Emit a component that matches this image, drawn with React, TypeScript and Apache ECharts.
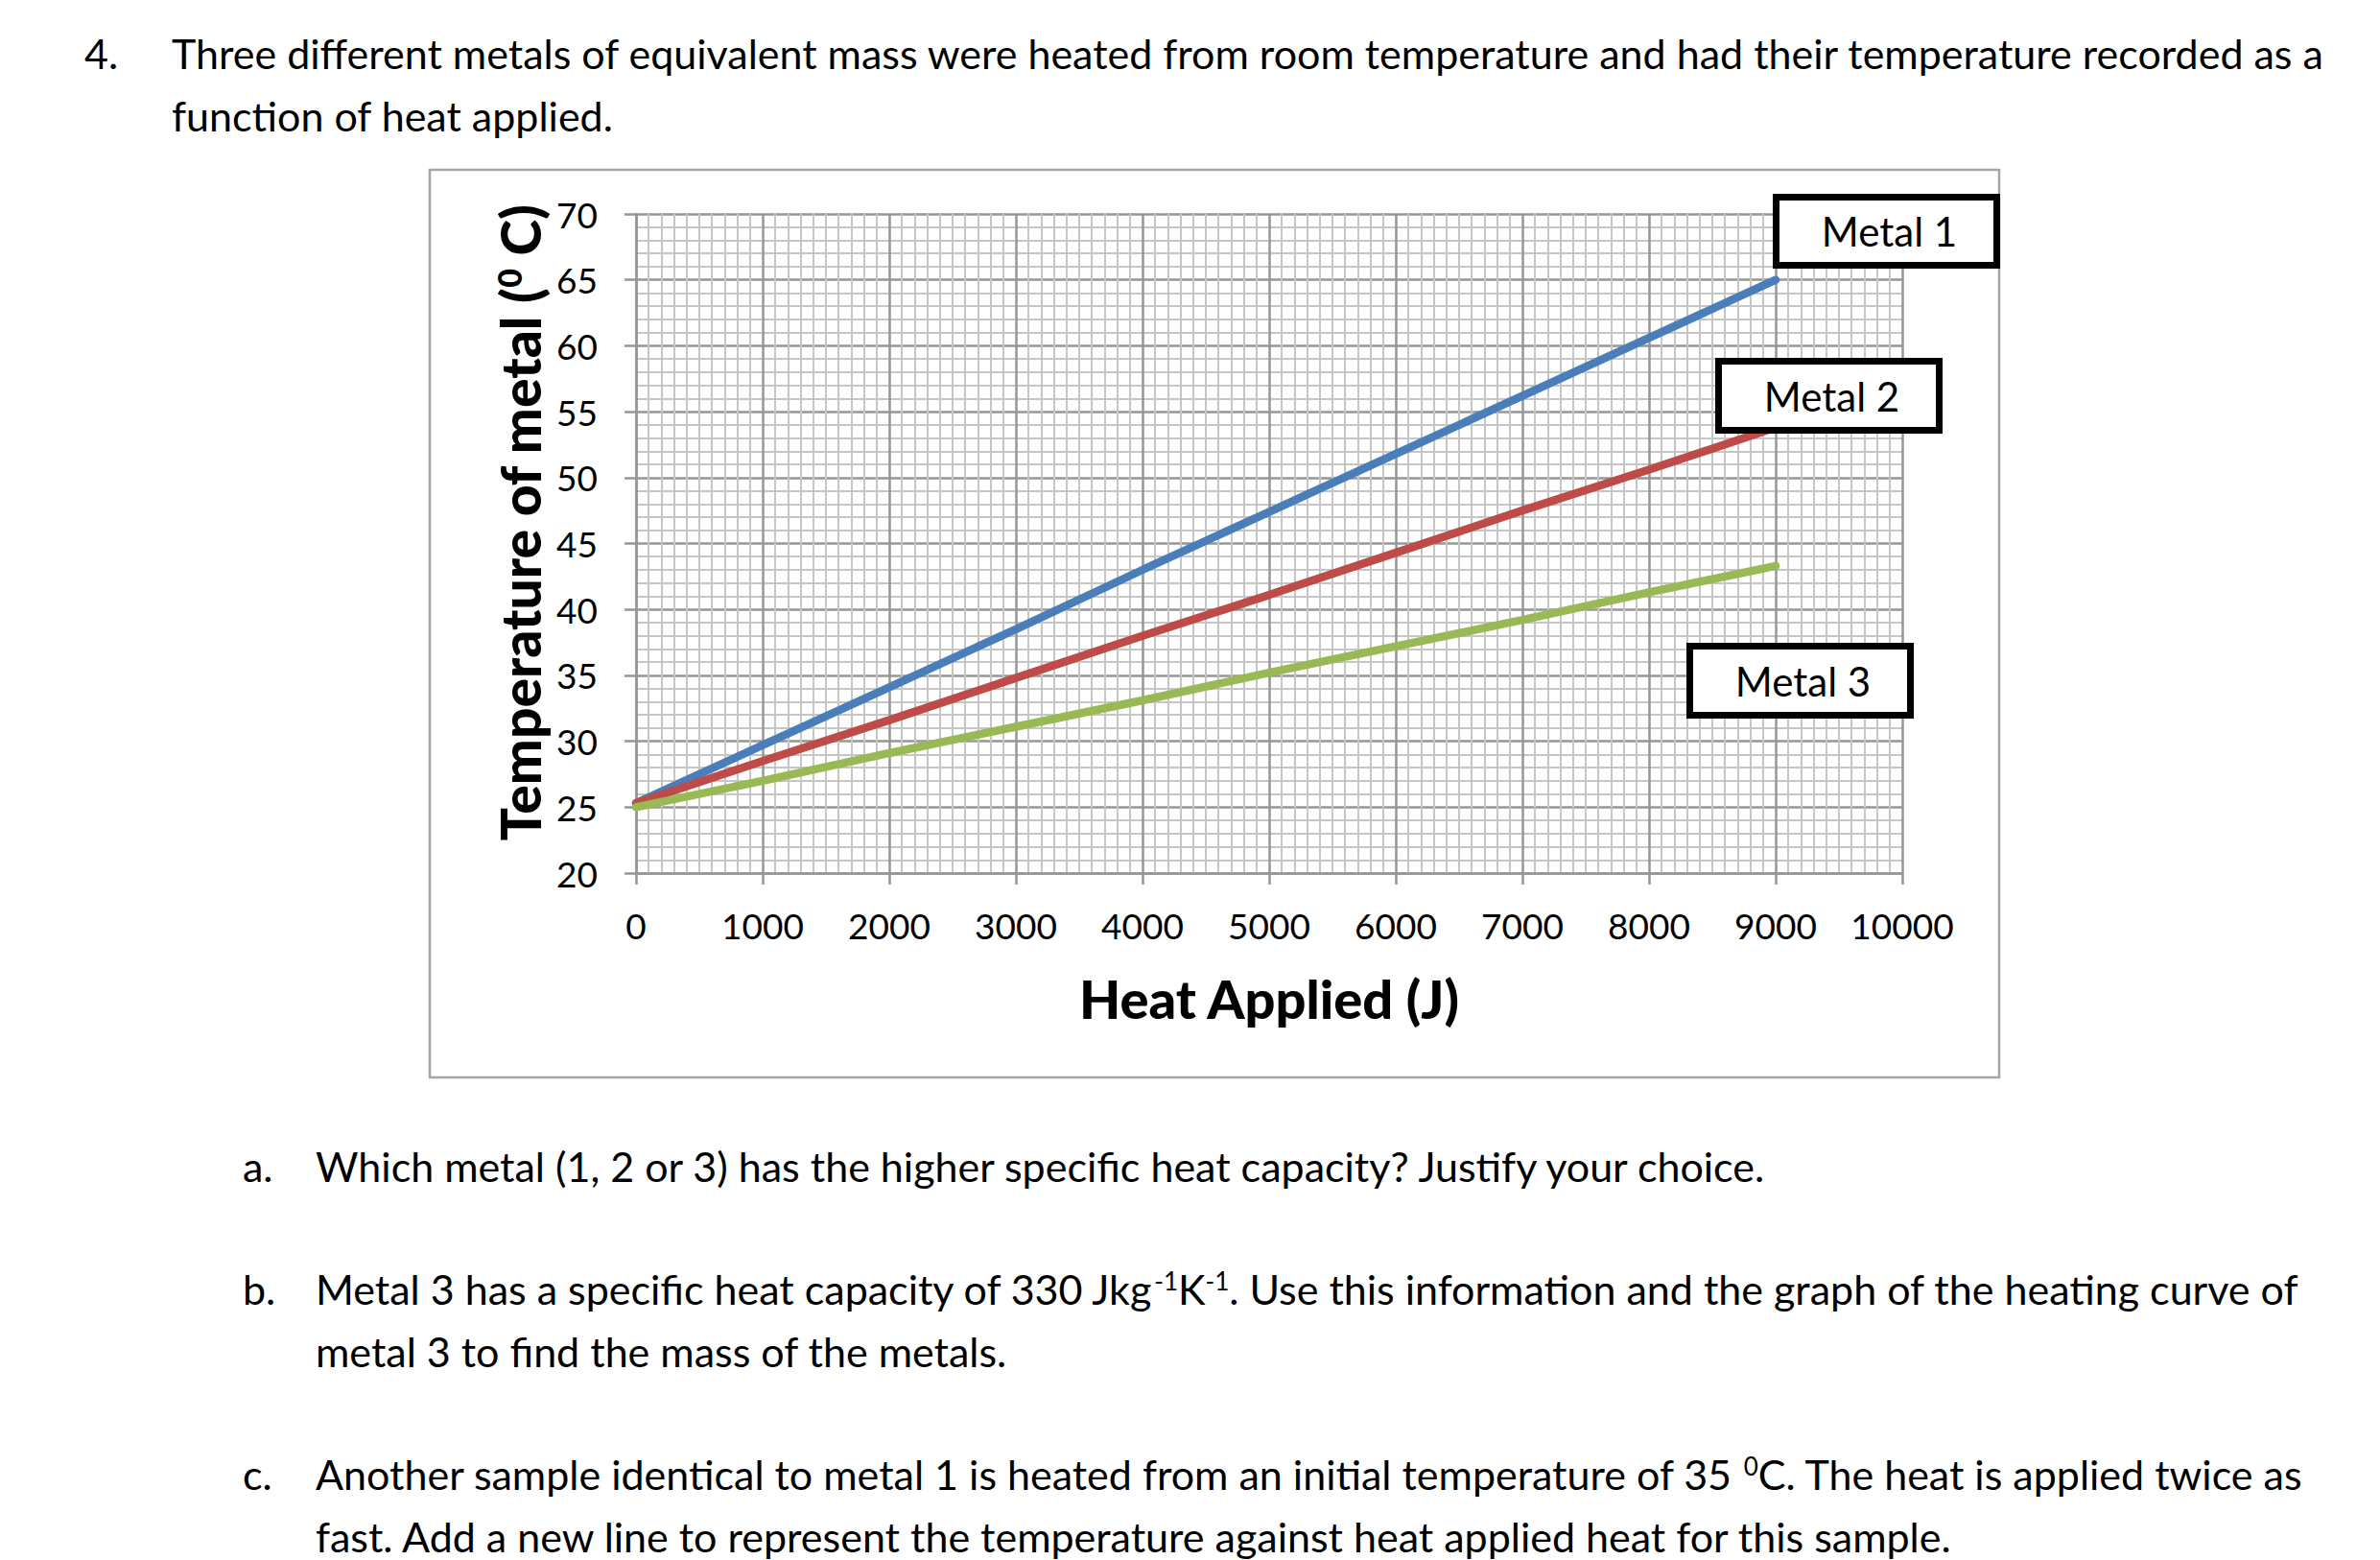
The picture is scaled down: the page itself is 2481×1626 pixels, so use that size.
import React, { useEffect, useRef } from "react";
import * as echarts from "echarts";

// ---- data ----
const heatApplied = [0, 1000, 2000, 3000, 4000, 5000, 6000, 7000, 8000, 9000];
const metal1Temp = [25.3, 29.7, 34.1, 38.5, 43.0, 47.4, 51.8, 56.2, 60.6, 65.0];
const metal2Temp = [25.3, 28.5, 31.6, 34.8, 38.0, 41.1, 44.3, 47.5, 50.6, 53.8];
const metal3Temp = [25.0, 27.0, 29.1, 31.1, 33.1, 35.2, 37.2, 39.2, 41.3, 43.3];

const seriesNames = ["Metal 1", "Metal 2", "Metal 3"];
const seriesColors = ["#4a7ebb", "#be4b48", "#98b954"];

const xMin = 0;
const xMax = 10000;
const xStep = 1000;
const yMin = 20;
const yMax = 70;
const yStep = 5;

const xTitle = "Heat Applied (J)";
const yTitle = "Temperature of metal ({sup|0} C)";

const questionIntro = [
  "Three different metals of equivalent mass were heated from room temperature and had their temperature recorded as a",
  "function of heat applied.",
];
const questionA = ["Which metal (1, 2 or 3) has the higher specific heat capacity? Justify your choice."];
const questionB = [
  "Metal 3 has a specific heat capacity of 330 Jkg{sup|-1}K{sup|-1}. Use this information and the graph of the heating curve of",
  "metal 3 to find the mass of the metals.",
];
const questionC = [
  "Another sample identical to metal 1 is heated from an initial temperature of 35 {sup|0}C. The heat is applied twice as",
  "fast. Add a new line to represent the temperature against heat applied heat for this sample.",
];

const FONT = "Lato, 'Noto Sans', sans-serif";

export default function App() {
  const ref = useRef<HTMLDivElement>(null);

  useEffect(() => {
    document.body.style.margin = "0";
    if (!ref.current) return;
    const chart = echarts.init(ref.current, undefined, { renderer: "svg" });

    const allTemps = [metal1Temp, metal2Temp, metal3Temp];
    const series = allTemps.map((temps, i) => ({
      name: seriesNames[i],
      type: "line" as const,
      data: heatApplied.map((h, j) => [h, temps[j]]),
      showSymbol: false,
      symbol: "none",
      lineStyle: { color: seriesColors[i], width: 8.5, cap: "round" as const },
      itemStyle: { color: seriesColors[i] },
      z: 3,
      silent: true,
    }));

    const bodyText = (x: number, y: number, text: string) => ({
      type: "text",
      x,
      y,
      style: {
        text,
        fill: "#000",
        fontSize: 43,
        fontFamily: FONT,
        align: "left",
        verticalAlign: "middle",
        rich: {
          sup: { fontSize: 26, fontFamily: FONT, fill: "#000", verticalAlign: "top", lineHeight: 26 },
        },
      },
    });

    const box = (x0: number, y0: number, x1: number, y1: number, label: string) => ({
      type: "group",
      z: 10,
      children: [
        {
          type: "rect",
          shape: { x: x0 + 3.5, y: y0 + 3.5, width: x1 - x0 - 7, height: y1 - y0 - 7 },
          style: { fill: "#fff", stroke: "#000", lineWidth: 7 },
          z: 10,
        },
        {
          type: "text",
          x: (x0 + x1) / 2 + 3,
          y: (y0 + y1) / 2,
          z: 11,
          style: {
            text: label,
            fill: "#000",
            fontSize: 42,
            fontFamily: FONT,
            align: "center",
            verticalAlign: "middle",
          },
        },
      ],
    });

    const graphics: any[] = [
      {
        type: "rect",
        z: -1,
        shape: { x: 448, y: 177, width: 1636, height: 946 },
        style: { fill: "#fff", stroke: "#a6a6a6", lineWidth: 2.5 },
      },
      bodyText(88, 55, "4."),
      bodyText(179, 55, questionIntro[0]),
      bodyText(179, 120, questionIntro[1]),
      bodyText(253, 1215, "a."),
      bodyText(329, 1215, questionA[0]),
      bodyText(253, 1343, "b."),
      bodyText(329, 1343, questionB[0]),
      bodyText(329, 1408, questionB[1]),
      bodyText(253, 1536, "c."),
      bodyText(329, 1536, questionC[0]),
      bodyText(329, 1601, questionC[1]),
      {
        type: "text",
        x: 542,
        y: 545,
        rotation: Math.PI / 2,
        style: {
          text: yTitle,
          fill: "#000",
          fontSize: 57,
          fontWeight: 900,
          fontFamily: FONT,
          align: "center",
          verticalAlign: "middle",
          rich: {
            sup: { fontSize: 34, fontWeight: 900, fontFamily: FONT, fill: "#000", verticalAlign: "top", lineHeight: 34 },
          },
        },
      },
      box(1848, 202, 2085, 280, seriesNames[0]),
      box(1788, 373, 2025, 452, seriesNames[1]),
      box(1758, 670, 1995, 749, seriesNames[2]),
    ];

    const majorColor = "#969696";
    const minorColor = "#c6c6c6";

    chart.setOption({
      animation: false,
      backgroundColor: "#fff",
      grid: { left: 663, top: 223, width: 1320, height: 687, containLabel: false },
      xAxis: {
        type: "value",
        min: xMin,
        max: xMax,
        interval: xStep,
        name: xTitle,
        nameLocation: "middle",
        nameGap: 102,
        nameTextStyle: { fontSize: 56, fontWeight: 900, fontFamily: FONT, color: "#000" },
        axisLine: { show: true, onZero: false, lineStyle: { color: majorColor, width: 2.5 } },
        axisTick: { show: true, length: 12, lineStyle: { color: majorColor, width: 2.5 } },
        axisLabel: {
          fontSize: 37,
          fontFamily: FONT,
          color: "#000",
          margin: 36,
          formatter: (v: number) => String(v),
        },
        splitLine: { show: true, lineStyle: { color: majorColor, width: 2.5 } },
        minorTick: { show: false, splitNumber: 10 },
        minorSplitLine: { show: true, lineStyle: { color: minorColor, width: 2 } },
      },
      yAxis: {
        type: "value",
        min: yMin,
        max: yMax,
        interval: yStep,
        axisLine: { show: true, onZero: false, lineStyle: { color: majorColor, width: 2.5 } },
        axisTick: { show: true, length: 12, lineStyle: { color: majorColor, width: 2.5 } },
        axisLabel: { fontSize: 37, fontFamily: FONT, color: "#000", margin: 40 },
        splitLine: { show: true, lineStyle: { color: majorColor, width: 2.5 } },
        minorTick: { show: false, splitNumber: 5 },
        minorSplitLine: { show: true, lineStyle: { color: minorColor, width: 2 } },
      },
      series,
      graphic: graphics,
    });

    return () => {
      chart.dispose();
    };
  }, []);

  return <div ref={ref} style={{ width: 2481, height: 1626 }} />;
}
